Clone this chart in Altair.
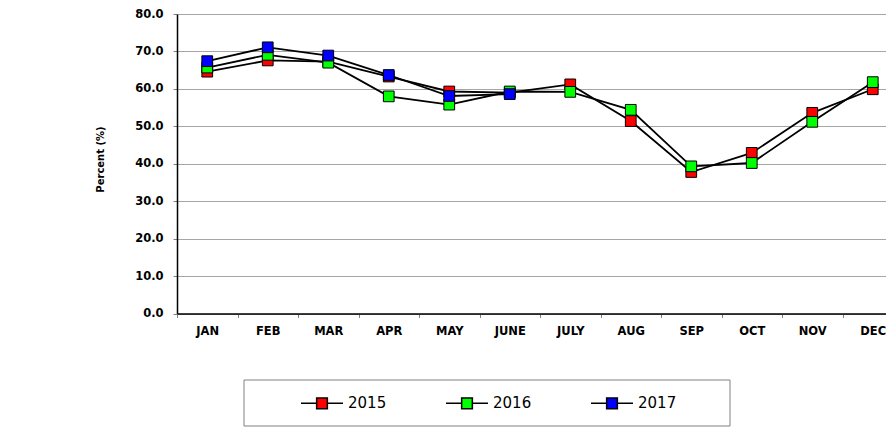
import altair as alt
import pandas as pd

months = ["JAN", "FEB", "MAR", "APR", "MAY", "JUNE", "JULY", "AUG", "SEP", "OCT", "NOV", "DEC"]
years = ["2015", "2016", "2017"]
v2015 = [64.6, 67.6, 67.3, 63.3, 59.3, 59.0, 61.2, 51.4, 37.8, 42.9, 53.6, 59.9]
v2016 = [65.7, 69.1, 67.0, 58.0, 55.8, 59.3, 59.2, 54.4, 39.3, 40.2, 51.2, 61.8]
v2017 = [67.4, 71.1, 68.9, 63.7, 58.1, 58.6]
colors = ["#ff0000", "#00ff00", "#0000ff"]
y_ticks = [0, 10, 20, 30, 40, 50, 60, 70, 80]

rows = []
for yr, vals in zip(years, [v2015, v2016, v2017]):
    for m, v in zip(months, vals):
        rows.append({"month": m, "year": yr, "value": v})
df = pd.DataFrame(rows)

FONT = "DejaVu Sans"

x_enc = alt.X(
    "month:N",
    sort=months,
    scale=alt.Scale(type="band", paddingInner=0, paddingOuter=0),
    axis=alt.Axis(
        title=None, labelFont=FONT, labelFontWeight="bold", labelFontSize=11.5,
        labelColor="black", tickBand="extent", tickSize=4, tickColor="#808080",
        domainColor="black", domainWidth=1.5, labelPadding=8, grid=False, labelAngle=0,
    ),
)
y_enc = alt.Y(
    "value:Q",
    scale=alt.Scale(domain=[0, 80], nice=False, zero=True),
    axis=alt.Axis(
        values=y_ticks, format=".1f", title="Percent (%)",
        labelFont=FONT, labelFontWeight="bold", labelFontSize=11.5, labelColor="black",
        labelPadding=10, tickSize=4, tickColor="#808080", domainColor="black", domainWidth=1.5,
        gridColor="#a6a6a6", gridWidth=1,
        titleFont=FONT, titleFontWeight="bold", titleFontSize=10, titleColor="black",
        titleX=-77, titleY=145, titleAngle=-90, titleAlign="center", titleBaseline="middle",
    ),
)

lines = alt.Chart(df).mark_line(color="black", strokeWidth=1.8).encode(
    x=x_enc, y=y_enc, detail="year:N"
)

symbol_path = "M-1,0H-0.255M0.255,0H1M-0.255,-0.255H0.255V0.255H-0.255Z"

points = alt.Chart(df).mark_point(
    shape="square", filled=True, size=115, stroke="black", strokeWidth=1, opacity=1
).encode(
    x=x_enc,
    y=y_enc,
    fill=alt.Fill(
        "year:N",
        scale=alt.Scale(domain=years, range=colors),
        legend=alt.Legend(
            title=None, orient="none", legendX=123, legendY=367, direction="horizontal",
            columns=3, columnPadding=56, padding=0,
            symbolType=symbol_path, symbolSize=1764, symbolStrokeColor="black",
            symbolStrokeWidth=1.5, symbolOpacity=1,
            labelFont=FONT, labelFontSize=15, labelColor="black", labelOffset=4,
        ),
    ),
)

frame_df = pd.DataFrame({"k": [0]})
frame = alt.Chart(frame_df).mark_rect(
    fillOpacity=0, stroke="#808080", strokeWidth=1
).encode(
    x=alt.value(67), x2=alt.value(553), y=alt.value(366), y2=alt.value(412)
)

chart = alt.layer(lines, points, frame).properties(
    width=726, height=299.5,
    padding={"left": 169, "top": 6, "right": -17, "bottom": 113},
    autosize=alt.AutoSizeParams(type="none"),
).configure_view(stroke=None)

chart.save("out.html", embed_options={"renderer": "svg", "actions": False})
